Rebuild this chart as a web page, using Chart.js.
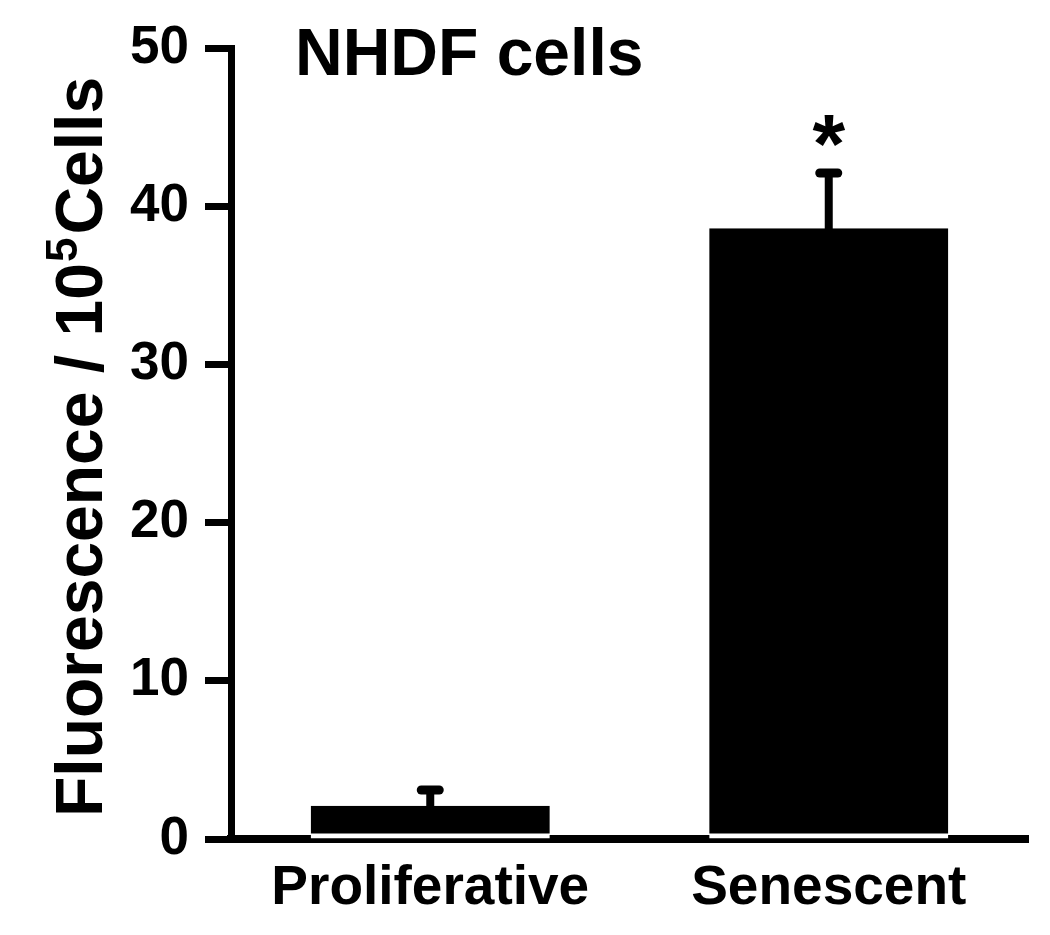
<!DOCTYPE html>
<html>
<head>
<meta charset="utf-8">
<script src="https://cdn.jsdelivr.net/npm/chart.js@4/dist/chart.umd.min.js"></script>
<style>
  body { margin: 0; background: #fff; }
  canvas { display: block; }
</style>
</head>
<body>
<canvas id="nhdf" width="1050" height="935"></canvas>
<script>
var categories = ['Proliferative', 'Senescent'];
var means = [2.1, 38.6];
var errors = [1.0, 3.5];
var marks = ['', '*'];
var yTicks = [0, 10, 20, 30, 40, 50];

var FONT = "'Liberation Sans', Arial, Helvetica, sans-serif";

// error bars, asterisk, title and the y label with its superscript
var extras = {
    id: 'extras',
    afterDatasetsDraw: function(chart) {
        var ctx = chart.ctx;
        var x = chart.scales.x, y = chart.scales.y;
        ctx.save();
        ctx.strokeStyle = '#000';
        ctx.fillStyle = '#000';
        ctx.lineCap = 'round';
        for (var i = 0; i < means.length; i++) {
            var cx = x.getPixelForValue(i);
            var top = y.getPixelForValue(means[i] + errors[i]);
            ctx.lineWidth = 8;
            ctx.beginPath();
            ctx.moveTo(cx, y.getPixelForValue(means[i]));
            ctx.lineTo(cx, top);
            ctx.stroke();
            ctx.lineWidth = 9;
            ctx.beginPath();
            ctx.moveTo(cx - 9, top);
            ctx.lineTo(cx + 9, top);
            ctx.stroke();
            if (marks[i]) {
                ctx.font = 'bold 84px ' + FONT;
                ctx.textAlign = 'center';
                ctx.textBaseline = 'alphabetic';
                ctx.fillText(marks[i], cx, top);
            }
        }

        ctx.textAlign = 'left';
        ctx.textBaseline = 'alphabetic';
        ctx.font = 'bold 66px ' + FONT;
        ctx.fillText('NHDF cells', 295, 75);

        ctx.translate(102, 817);
        ctx.rotate(-Math.PI / 2);
        ctx.font = 'bold 66px ' + FONT;
        var part1 = 'Fluorescence / 10';
        ctx.fillText(part1, 0, 0);
        var w1 = ctx.measureText(part1).width;
        ctx.font = 'bold 44px ' + FONT;
        ctx.fillText('5', w1 + 1, -25);
        var w2 = ctx.measureText('5').width;
        ctx.font = 'bold 66px ' + FONT;
        ctx.fillText('Cells', w1 + w2 + 4, 0);
        ctx.restore();
    }
};

new Chart(document.getElementById('nhdf'), {
    type: 'bar',
    data: {
        labels: categories,
        datasets: [{
            data: means,
            backgroundColor: '#000',
            borderColor: '#fff',
            borderWidth: { top: 0, left: 0, right: 0, bottom: 5 },
            borderSkipped: false,
            barPercentage: 0.6,
            categoryPercentage: 1.0
        }]
    },
    options: {
        responsive: false,
        animation: false,
        layout: { padding: { left: 0, top: 48, right: 22, bottom: 0 } },
        plugins: {
            legend: { display: false },
            tooltip: { enabled: false },
            title: { display: false }
        },
        scales: {
            x: {
                z: 1,
                grid: { display: true, drawOnChartArea: false, drawTicks: false },
                border: { display: true, width: 8, color: '#000' },
                ticks: {
                    color: '#000',
                    padding: 17,
                    font: { family: FONT, size: 55, weight: 'bold' }
                },
                afterFit: function(s) { s.height = 96; }
            },
            y: {
                min: 0,
                max: 50,
                afterBuildTicks: function(s) {
                    s.ticks = yTicks.map(function(v) { return { value: v }; });
                },
                grid: {
                    drawOnChartArea: false,
                    drawTicks: true,
                    tickLength: 26,
                    tickWidth: 7,
                    tickColor: '#000'
                },
                border: { display: true, width: 7, color: '#000' },
                ticks: {
                    color: '#000',
                    padding: 16,
                    font: { family: FONT, size: 53, weight: 'bold' }
                },
                afterFit: function(s) { s.width = 231; }
            }
        }
    },
    plugins: [extras]
});
</script>
</body>
</html>
